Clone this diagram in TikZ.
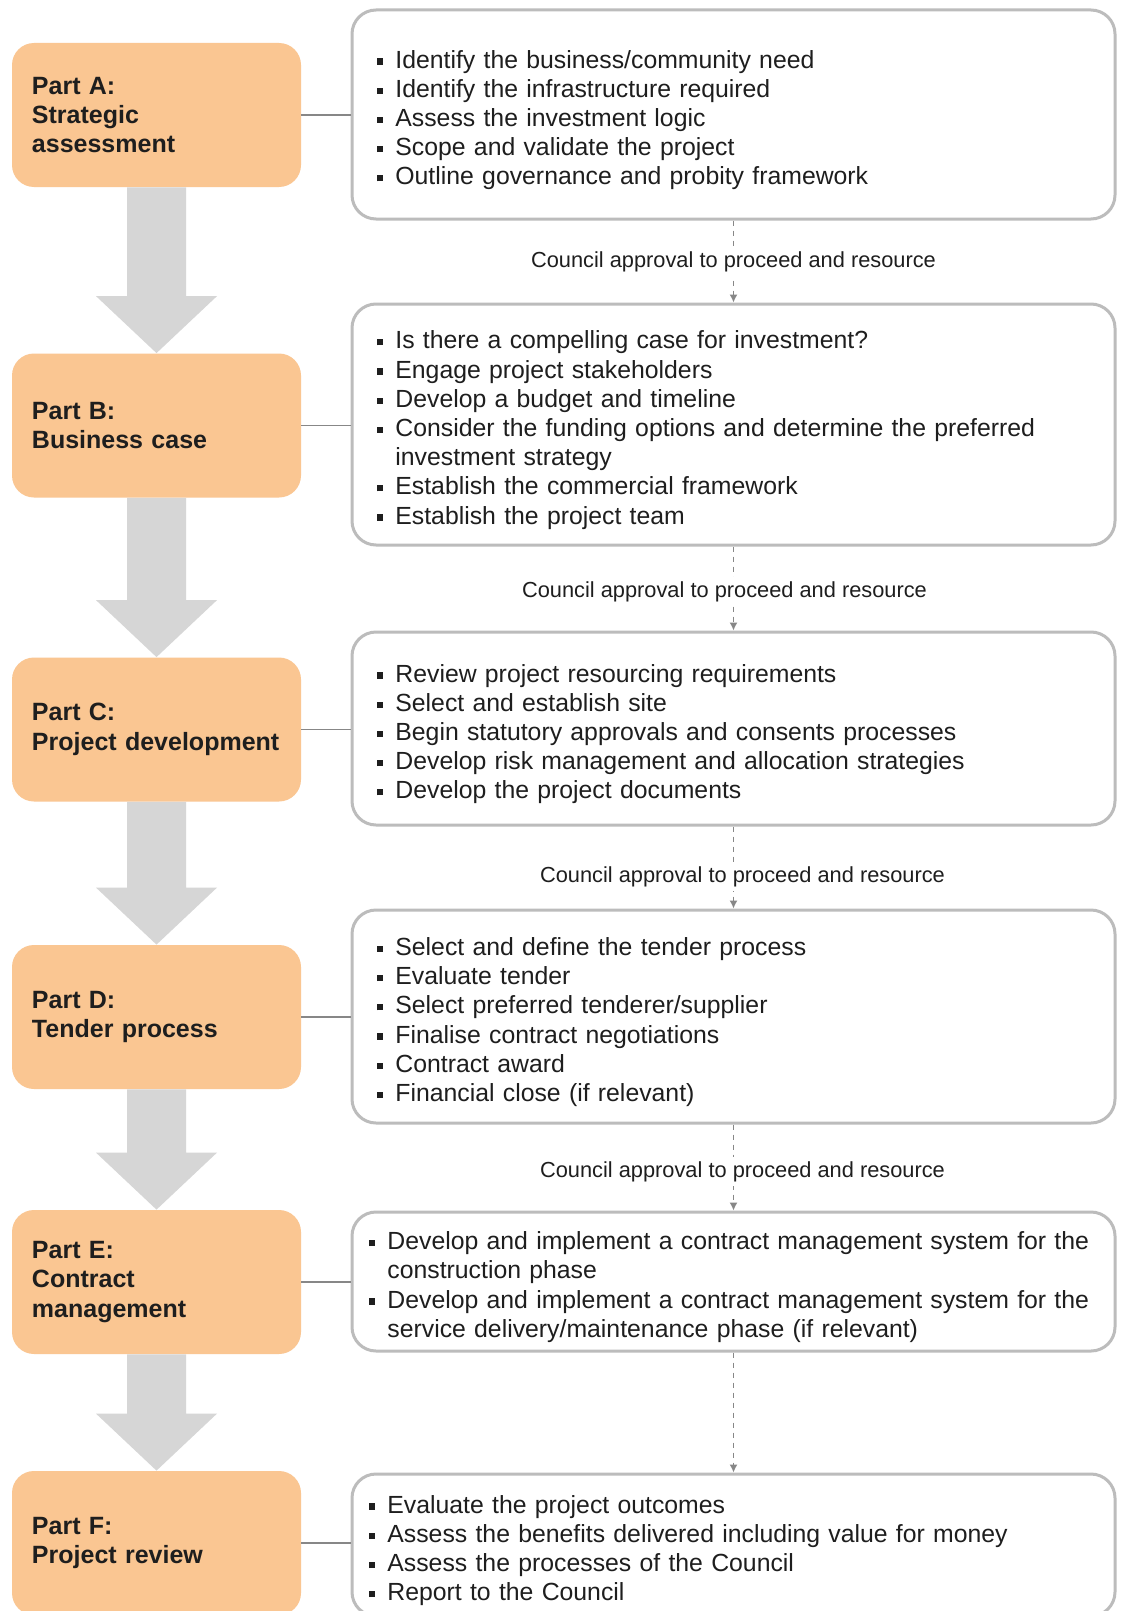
\documentclass[tikz,border=0pt]{standalone}
\usepackage{fontspec}
\setmainfont{Liberation Sans}
\usetikzlibrary{arrows.meta,calc}
\definecolor{orangefill}{RGB}{250,198,146}
\definecolor{arrowgray}{RGB}{214,214,214}
\definecolor{boxline}{RGB}{188,188,188}
\definecolor{linkgray}{RGB}{135,135,135}
\definecolor{txt}{RGB}{30,30,30}
\newcommand{\bitem}[1]{\par\hangindent=9.2pt\hangafter=1\noindent\makebox[9.2pt][l]{\raisebox{1.8pt}{\rule{3.1pt}{3.1pt}}}#1}
\tikzset{
  obox/.style={fill=orangefill, rounded corners=11pt, minimum width=144.5pt, minimum height=72pt,
    text width=124.5pt, inner xsep=10pt, align=left, text=txt,
    font=\fontsize{12.5}{14.65}\selectfont\bfseries},
  rbox/.style={draw=boxline, line width=1.5pt, rounded corners=12pt, fill=white,
    text width=356.5pt, inner xsep=12.5pt, align=left, text=txt,
    font=\fontsize{12.4}{14.6}\selectfont},
  rboxw/.style={rbox, text width=364.5pt, inner xsep=8.5pt},
  link/.style={draw=linkgray, line width=0.8pt},
  approval/.style={draw=linkgray, line width=0.7pt, dash pattern=on 2.5pt off 2.5pt,
    -{Latex[length=4pt,width=4pt]}},
  lbl/.style={fill=white, text=txt, inner sep=2pt, font=\fontsize{10.9}{13}\selectfont},
  bigarrow/.style={fill=arrowgray}
}
\begin{document}
\begin{tikzpicture}[x=0.5pt,y=-0.5pt]
\useasboundingbox (0,0) rectangle (1123,1611);
\fill[white] (0,0) rectangle (1123,1611);

% left phase boxes
\node[obox] (pa) at (156.5,115) {Part A:\\Strategic\\assessment};
\node[obox] (pb) at (156.5,425.5) {Part B:\\Business case};
\node[obox] (pc) at (156.5,729.5) {Part C:\\Project development};
\node[obox] (pd) at (156.5,1017) {Part D:\\Tender process};
\node[obox] (pe) at (156.5,1282) {Part E:\\Contract\\management};
\node[obox] (pf) at (156.5,1543) {Part F:\\Project review};

% big gray arrows
\foreach \u/\v in {pa/pb,pb/pc,pc/pd,pd/pe,pe/pf}{
  \path[bigarrow] ($(\u.south)+(-29.5,0)$) -- ($(\u.south)+(29.5,0)$)
    -- ($(\v.north)+(29.5,-57)$) -- ($(\v.north)+(60.5,-57)$)
    -- (\v.north) -- ($(\v.north)+(-60.5,-57)$) -- ($(\v.north)+(-29.5,-57)$) -- cycle;
}

% right description boxes
\node[rbox, minimum height=104.5pt] (ra) at (733.5,114.5) {%
\bitem{Identify the business/community need}
\bitem{Identify the infrastructure required}
\bitem{Assess the investment logic}
\bitem{Scope and validate the project}
\bitem{Outline governance and probity framework}\par};

\node[rbox, minimum height=120.5pt] (rb) at (733.5,424.5) {%
\bitem{Is there a compelling case for investment?}
\bitem{Engage project stakeholders}
\bitem{Develop a budget and timeline}
\bitem{Consider the funding options and determine the preferred\newline investment strategy}
\bitem{Establish the commercial framework}
\bitem{Establish the project team}\par};

\node[rbox, minimum height=96.5pt] (rc) at (733.5,728.5) {%
\bitem{Review project resourcing requirements}
\bitem{Select and establish site}
\bitem{Begin statutory approvals and consents processes}
\bitem{Develop risk management and allocation strategies}
\bitem{Develop the project documents}\par};

\node[rbox, minimum height=106.5pt] (rd) at (733.5,1016.5) {%
\bitem{Select and define the tender process}
\bitem{Evaluate tender}
\bitem{Select preferred tenderer/supplier}
\bitem{Finalise contract negotiations}
\bitem{Contract award}
\bitem{Financial close (if relevant)}\par};

\node[rboxw, minimum height=69.5pt] (re) at (733.5,1281.5) {%
\bitem{Develop and implement a contract management system for the\newline construction phase}
\bitem{Develop and implement a contract management system for the\newline service delivery/maintenance phase (if relevant)}\par};

\node[rboxw, minimum height=71pt] (rf) at (733.5,1545) {%
\bitem{Evaluate the project outcomes}
\bitem{Assess the benefits delivered including value for money}
\bitem{Assess the processes of the Council}
\bitem{Report to the Council}\par};

% horizontal links
\foreach \p/\r in {pa/ra,pb/rb,pc/rc,pd/rd,pe/re,pf/rf}{
  \draw[link] (\p.east) -- (\p.east -| \r.west);
}

% approval connectors
\draw[approval] (ra.south) -- node[lbl]{Council approval to proceed and resource} (rb.north);
\draw[approval] (rb.south) -- node[lbl, xshift=-4.5pt, yshift=-1.5pt]{Council approval to proceed and resource} (rc.north);
\draw[approval] (rc.south) -- node[lbl, xshift=4.5pt, yshift=-4.5pt]{Council approval to proceed and resource} (rd.north);
\draw[approval] (rd.south) -- node[lbl, xshift=4.5pt, yshift=-2pt]{Council approval to proceed and resource} (re.north);
\draw[approval] (re.south) -- (rf.north);
\end{tikzpicture}
\end{document}
